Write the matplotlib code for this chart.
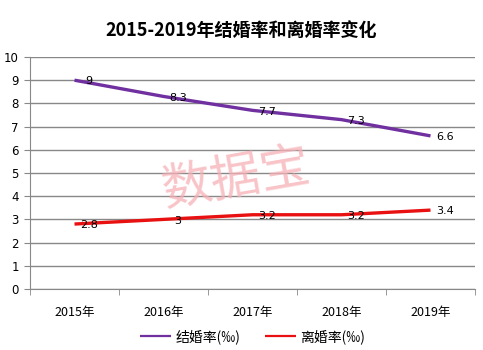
import numpy as np
import matplotlib.pyplot as plt

plt.rcParams['font.family'] = ['Noto Sans CJK SC', 'DejaVu Sans']

years = ['2015年', '2016年', '2017年', '2018年', '2019年']
marriage = [9, 8.3, 7.7, 7.3, 6.6]
divorce = [2.8, 3, 3.2, 3.2, 3.4]

fig = plt.figure(figsize=(4.83, 3.5), dpi=100)
ax = fig.add_axes([30/483, 1 - 289/350, 445/483, 232/350])

x = np.arange(len(years))
ax.plot(x, marriage, color='#7030A0', linewidth=2.4, label='结婚率(‰)', solid_capstyle='butt')
ax.plot(x, divorce, color='#E81010', linewidth=2.4, label='离婚率(‰)', solid_capstyle='butt')

for xi, v in zip(x, marriage):
    ax.text(xi + 0.16, v - 0.05, f'{v:g}', ha='center', va='center', fontsize=8, family='DejaVu Sans')
for xi, v in zip(x, divorce):
    ax.text(xi + 0.16, v - 0.05, f'{v:g}', ha='center', va='center', fontsize=8, family='DejaVu Sans')

ax.set_xlim(-0.5, len(years) - 0.5)
ax.set_ylim(0, 10)
ax.set_yticks(range(0, 11))
ax.set_xticks(x)
ax.set_xticklabels(years, fontsize=9)
ax.set_xticks(np.arange(-0.5, len(years)), minor=True)
ax.tick_params(axis='x', which='major', length=0, pad=12)
ax.tick_params(axis='x', which='minor', length=4, color='#888888')
ax.tick_params(axis='y', length=4, color='#888888', labelsize=8.5, pad=4)
for lab in ax.get_yticklabels():
    lab.set_family('DejaVu Sans')
ax.grid(axis='y', color='#888888', linewidth=1)
ax.set_axisbelow(True)
for s in ['top', 'right']:
    ax.spines[s].set_visible(False)
ax.spines['left'].set_color('#888888')
ax.spines['bottom'].set_color('#888888')

# watermark
fig.text(0.488, 0.487, '数据宝', fontsize=36, color='#F6B0B6', alpha=0.75,
         rotation=10, ha='center', va='center')

fig.text(0.5, 1 - 30/350, '2015-2019年结婚率和离婚率变化', ha='center', va='center',
         fontsize=13, fontweight='bold')

leg = ax.legend(loc='center', bbox_to_anchor=(0.5, -0.205), ncol=2, frameon=False,
                fontsize=10, handlelength=2.2, columnspacing=1.8, handletextpad=0.3)
for h in leg.get_lines():
    h.set_linewidth(1.6)

fig.savefig('out.png', dpi=100)
